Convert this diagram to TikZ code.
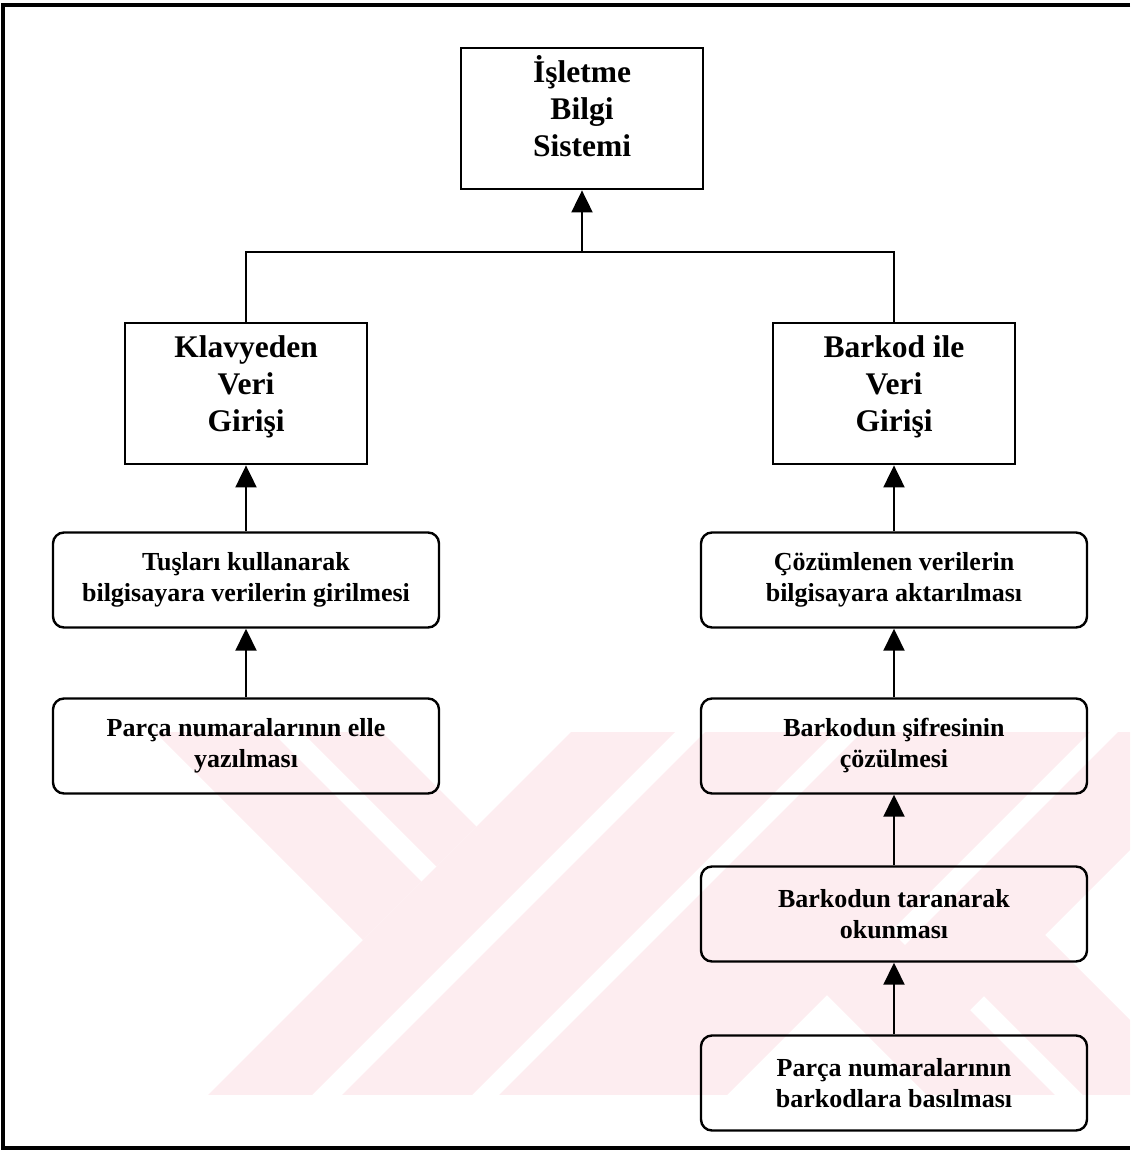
\documentclass[tikz,border=0pt]{standalone}
\usepackage{fontspec}
\setmainfont{Liberation Serif}
\usetikzlibrary{arrows.meta}
\definecolor{wmpink}{RGB}{253,237,240}
\newcommand{\boxlines}[1]{\begin{tabular}[t]{@{}c@{}}#1\end{tabular}}
\tikzset{
  sysbox/.style={
    draw,
    line width=2.4pt,
    minimum width=242pt,
    inner ysep=0pt,
    text height=34pt,
    text depth=107pt,
    anchor=north,
    font=\bfseries\fontsize{31.5}{37}\selectfont
  },
  stepbox/.style={
    draw,
    line width=2.4pt,
    rounded corners=11pt,
    minimum width=386pt,
    minimum height=95pt,
    align=center,
    font=\bfseries\fontsize{26}{31}\selectfont
  },
  link/.style={line width=2pt},
  uplink/.style={line width=2pt, -{Triangle[length=22pt,width=21pt]}}
}

\begin{document}
\begin{tikzpicture}[x=1pt,y=-1pt]
  \useasboundingbox (0,0) rectangle (1130,1154);
  % watermark
  \begin{scope}
    \clip (0,732) rectangle (1130,1094);
    \fill[wmpink] (123,700) -- (240,700) -- (421.5,881.5) -- (363,940) -- cycle;
    \fill[wmpink] (270,700) -- (350,700) -- (476.5,826.5) -- (436.5,866.5) -- cycle;
    \fill[wmpink] (603,700) -- (707,700) -- (277,1130) -- (173,1130) -- cycle;
    \fill[wmpink] (737,700) -- (867,700) -- (437,1130) -- (307,1130) -- cycle;
    \fill[wmpink] (894,700) -- (1122,700) -- (692,1130) -- (464,1130) -- cycle;
    \fill[wmpink] (816,984) -- (880,920) -- (1090,1130) -- (962,1130) -- cycle;
    \fill[wmpink] (1150,700) -- (1280,700) -- (960,1020) -- (895,955) -- cycle;
    \fill[wmpink] (969,981) -- (1030,920) -- (1240,1130) -- (1118,1130) -- cycle;
  \end{scope}
  % frame
  \draw[line width=3.5pt] (1130,5) -| (3,1148) -- (1130,1148);

  \node[sysbox] (isletme) at (582,47) {\boxlines{İşletme\\Bilgi\\Sistemi}};
  \node[sysbox] (klavye) at (246,322) {\boxlines{Klavyeden\\Veri\\Girişi}};
  \node[sysbox] (barkod) at (894,322) {\boxlines{Barkod ile\\Veri\\Girişi}};

  \node[stepbox] (tuslar) at (246,580) {Tuşları kullanarak\\bilgisayara verilerin girilmesi};
  \node[stepbox] (elle) at (246,746) {Parça numaralarının elle\\yazılması};

  \node[stepbox] (cozum) at (894,580) {Çözümlenen verilerin\\bilgisayara aktarılması};
  \node[stepbox] (sifre) at (894,746) {Barkodun şifresinin\\çözülmesi};
  \node[stepbox] (tarama) at (894,914) {Barkodun taranarak\\okunması};
  \node[stepbox] (baski) at (894,1083) {Parça numaralarının\\barkodlara basılması};

  \coordinate (bus) at (582,252);
  \draw[link] (klavye.north) |- (bus) -| (barkod.north);
  \draw[uplink] (bus) -- (isletme.south);
  \draw[uplink] (tuslar.north) -- (klavye.south);
  \draw[uplink] (elle.north) -- (tuslar.south);
  \draw[uplink] (cozum.north) -- (barkod.south);
  \draw[uplink] (sifre.north) -- (cozum.south);
  \draw[uplink] (tarama.north) -- (sifre.south);
  \draw[uplink] (baski.north) -- (tarama.south);
\end{tikzpicture}
\end{document}
